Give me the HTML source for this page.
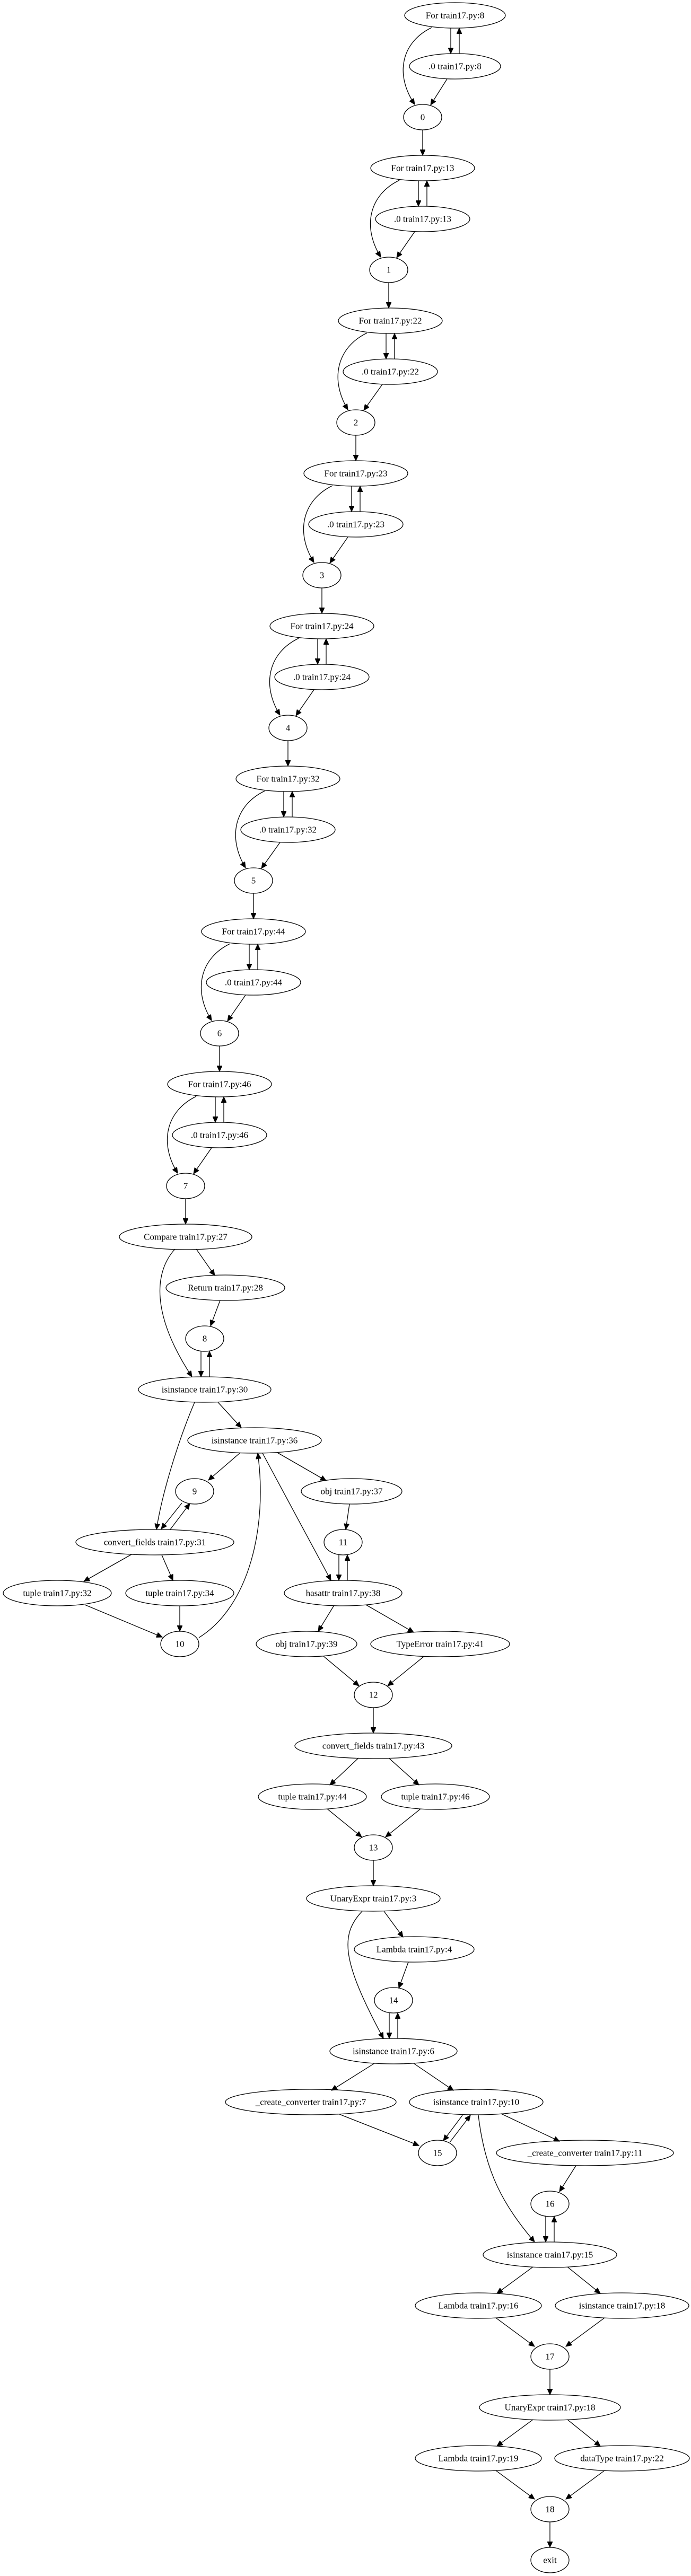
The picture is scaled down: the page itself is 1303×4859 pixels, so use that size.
<!DOCTYPE html>
<html><head><meta charset="utf-8"><style>
html,body{margin:0;padding:0;background:#fff}
svg{display:block}
text{font-family:"Liberation Serif",serif;font-size:17px;fill:#000;text-anchor:middle;dominant-baseline:central}
ellipse{fill:none;stroke:#000;stroke-width:1.3}
path{fill:none;stroke:#000;stroke-width:1.3}
</style></head><body>
<svg width="1303" height="4859" viewBox="0 0 1303 4859" xmlns="http://www.w3.org/2000/svg">
<defs><marker id="a" markerWidth="12" markerHeight="10" refX="11" refY="5" orient="auto" markerUnits="userSpaceOnUse"><path d="M0,0 L11,5 L0,10 Z" style="fill:#000;stroke:#000;stroke-width:1"/></marker></defs>

<!-- nodes -->
<g>
<ellipse cx="858" cy="29" rx="95" ry="24"/><text x="858" y="29">For train17.py:8</text>
<ellipse cx="858" cy="125" rx="86" ry="24"/><text x="858" y="125">.0 train17.py:8</text>
<ellipse cx="797" cy="221" rx="36" ry="24"/><text x="797" y="221">0</text>

<ellipse cx="797" cy="317" rx="98" ry="24"/><text x="797" y="317">For train17.py:13</text>
<ellipse cx="797" cy="413" rx="89" ry="24"/><text x="797" y="413">.0 train17.py:13</text>
<ellipse cx="733" cy="509" rx="36" ry="24"/><text x="733" y="509">1</text>

<ellipse cx="736" cy="605" rx="98" ry="24"/><text x="736" y="605">For train17.py:22</text>
<ellipse cx="736" cy="701" rx="89" ry="24"/><text x="736" y="701">.0 train17.py:22</text>
<ellipse cx="671" cy="797" rx="36" ry="24"/><text x="671" y="797">2</text>

<ellipse cx="671" cy="893" rx="98" ry="24"/><text x="671" y="893">For train17.py:23</text>
<ellipse cx="671" cy="989" rx="89" ry="24"/><text x="671" y="989">.0 train17.py:23</text>
<ellipse cx="607" cy="1085" rx="36" ry="24"/><text x="607" y="1085">3</text>

<ellipse cx="607" cy="1181" rx="98" ry="24"/><text x="607" y="1181">For train17.py:24</text>
<ellipse cx="607" cy="1277" rx="89" ry="24"/><text x="607" y="1277">.0 train17.py:24</text>
<ellipse cx="543" cy="1373" rx="36" ry="24"/><text x="543" y="1373">4</text>

<ellipse cx="543" cy="1469" rx="98" ry="24"/><text x="543" y="1469">For train17.py:32</text>
<ellipse cx="543" cy="1565" rx="89" ry="24"/><text x="543" y="1565">.0 train17.py:32</text>
<ellipse cx="478" cy="1661" rx="36" ry="24"/><text x="478" y="1661">5</text>

<ellipse cx="478" cy="1757" rx="98" ry="24"/><text x="478" y="1757">For train17.py:44</text>
<ellipse cx="478" cy="1853" rx="89" ry="24"/><text x="478" y="1853">.0 train17.py:44</text>
<ellipse cx="414" cy="1949" rx="36" ry="24"/><text x="414" y="1949">6</text>

<ellipse cx="414" cy="2045" rx="98" ry="24"/><text x="414" y="2045">For train17.py:46</text>
<ellipse cx="414" cy="2141" rx="89" ry="24"/><text x="414" y="2141">.0 train17.py:46</text>
<ellipse cx="350" cy="2237" rx="36" ry="24"/><text x="350" y="2237">7</text>

<ellipse cx="350" cy="2333" rx="125" ry="24"/><text x="350" y="2333">Compare train17.py:27</text>
<ellipse cx="425" cy="2429" rx="112" ry="24"/><text x="425" y="2429">Return train17.py:28</text>
<ellipse cx="386" cy="2525" rx="36" ry="24"/><text x="386" y="2525">8</text>
<ellipse cx="386" cy="2621" rx="125" ry="24"/><text x="386" y="2621">isinstance train17.py:30</text>
<ellipse cx="480" cy="2717" rx="126" ry="24"/><text x="480" y="2717">isinstance train17.py:36</text>
<ellipse cx="367" cy="2813" rx="36" ry="24"/><text x="367" y="2813">9</text>
<ellipse cx="663" cy="2813" rx="95" ry="24"/><text x="663" y="2813">obj train17.py:37</text>
<ellipse cx="292" cy="2909" rx="149" ry="24"/><text x="292" y="2909">convert_fields train17.py:31</text>
<ellipse cx="647" cy="2909" rx="36" ry="24"/><text x="647" y="2909">11</text>
<ellipse cx="108" cy="3005" rx="102" ry="24"/><text x="108" y="3005">tuple train17.py:32</text>
<ellipse cx="339" cy="3005" rx="102" ry="24"/><text x="339" y="3005">tuple train17.py:34</text>
<ellipse cx="647" cy="3005" rx="111" ry="24"/><text x="647" y="3005">hasattr train17.py:38</text>
<ellipse cx="339" cy="3101" rx="36" ry="24"/><text x="339" y="3101">10</text>
<ellipse cx="578" cy="3101" rx="95" ry="24"/><text x="578" y="3101">obj train17.py:39</text>
<ellipse cx="830" cy="3101" rx="131" ry="24"/><text x="830" y="3101">TypeError train17.py:41</text>
<ellipse cx="704" cy="3197" rx="36" ry="24"/><text x="704" y="3197">12</text>
<ellipse cx="704" cy="3293" rx="148" ry="24"/><text x="704" y="3293">convert_fields train17.py:43</text>
<ellipse cx="589" cy="3389" rx="102" ry="24"/><text x="589" y="3389">tuple train17.py:44</text>
<ellipse cx="821" cy="3389" rx="102" ry="24"/><text x="821" y="3389">tuple train17.py:46</text>
<ellipse cx="704" cy="3485" rx="36" ry="24"/><text x="704" y="3485">13</text>
<ellipse cx="704" cy="3581" rx="126" ry="24"/><text x="704" y="3581">UnaryExpr train17.py:3</text>
<ellipse cx="781" cy="3677" rx="113" ry="24"/><text x="781" y="3677">Lambda train17.py:4</text>
<ellipse cx="742" cy="3773" rx="36" ry="24"/><text x="742" y="3773">14</text>
<ellipse cx="742" cy="3869" rx="120" ry="24"/><text x="742" y="3869">isinstance train17.py:6</text>
<ellipse cx="586" cy="3965" rx="161" ry="24"/><text x="586" y="3965">_create_converter train17.py:7</text>
<ellipse cx="898" cy="3965" rx="126" ry="24"/><text x="898" y="3965">isinstance train17.py:10</text>
<ellipse cx="825" cy="4061" rx="36" ry="24"/><text x="825" y="4061">15</text>
<ellipse cx="1103" cy="4061" rx="167" ry="24"/><text x="1103" y="4061">_create_converter train17.py:11</text>
<ellipse cx="1037" cy="4157" rx="36" ry="24"/><text x="1037" y="4157">16</text>
<ellipse cx="1037" cy="4253" rx="126" ry="24"/><text x="1037" y="4253">isinstance train17.py:15</text>
<ellipse cx="902" cy="4349" rx="119" ry="24"/><text x="902" y="4349">Lambda train17.py:16</text>
<ellipse cx="1173" cy="4349" rx="126" ry="24"/><text x="1173" y="4349">isinstance train17.py:18</text>
<ellipse cx="1037" cy="4445" rx="36" ry="24"/><text x="1037" y="4445">17</text>
<ellipse cx="1037" cy="4541" rx="133" ry="24"/><text x="1037" y="4541">UnaryExpr train17.py:18</text>
<ellipse cx="902" cy="4637" rx="119" ry="24"/><text x="902" y="4637">Lambda train17.py:19</text>
<ellipse cx="1173" cy="4637" rx="127" ry="24"/><text x="1173" y="4637">dataType train17.py:22</text>
<ellipse cx="1037" cy="4733" rx="36" ry="24"/><text x="1037" y="4733">18</text>
<ellipse cx="1037" cy="4829" rx="36" ry="24"/><text x="1037" y="4829">exit</text>
</g>

<!-- edges -->
<g marker-end="url(#a)">
<path d="M850,53 L850,101"/><path d="M866,101 L866,53"/><path d="M814,52 C758,79 743,139 782,197"/><path d="M843,149 L812,198"/><path d="M797,245 L797,293"/>
<path d="M789,341 L789,389"/><path d="M805,389 L805,341"/><path d="M753,340 C697,367 682,427 718,485"/><path d="M782,437 L748,486"/><path d="M733,533 L733,581"/>
<path d="M728,629 L728,677"/><path d="M744,677 L744,629"/><path d="M692,628 C636,655 621,715 656,773"/><path d="M721,725 L686,774"/><path d="M671,821 L671,869"/>
<path d="M663,917 L663,965"/><path d="M679,965 L679,917"/><path d="M627,916 C571,943 556,1003 592,1061"/><path d="M656,1013 L622,1062"/><path d="M607,1109 L607,1157"/>
<path d="M599,1205 L599,1253"/><path d="M615,1253 L615,1205"/><path d="M563,1204 C507,1231 492,1291 528,1349"/><path d="M592,1301 L558,1350"/><path d="M543,1397 L543,1445"/>
<path d="M535,1493 L535,1541"/><path d="M551,1541 L551,1493"/><path d="M499,1492 C443,1519 428,1579 463,1637"/><path d="M528,1589 L493,1638"/><path d="M478,1685 L478,1733"/>
<path d="M470,1781 L470,1829"/><path d="M486,1829 L486,1781"/><path d="M434,1780 C378,1807 363,1867 399,1925"/><path d="M463,1877 L429,1926"/><path d="M414,1973 L414,2021"/>
<path d="M406,2069 L406,2117"/><path d="M422,2117 L422,2069"/><path d="M370,2068 C314,2095 299,2155 335,2213"/><path d="M399,2165 L365,2214"/><path d="M350,2261 L350,2309"/>

<path d="M370,2356 L405,2406"/>
<path d="M330,2356 C290,2400 285,2480 362,2597"/>
<path d="M415,2453 L397,2501"/>
<path d="M379,2549 L379,2597"/><path d="M395,2597 L395,2549"/>
<path d="M411,2645 L455,2693"/>
<path d="M367,2645 C335,2720 305,2820 295,2885"/>
<path d="M452,2741 L393,2792"/>
<path d="M523,2740 L615,2793"/>
<path d="M495,2741 L624,2981"/>
<path d="M343,2835 L304,2884"/><path d="M321,2885 L358,2836"/>
<path d="M659,2837 L652,2885"/>
<path d="M639,2933 L639,2981"/><path d="M655,2981 L655,2933"/>
<path d="M248,2932 L158,2983"/>
<path d="M305,2933 L326,2981"/>
<path d="M160,3027 L306,3088"/>
<path d="M339,3029 L339,3077"/>
<path d="M375,3089 C470,3030 505,2880 486,2741"/>
<path d="M630,3028 L600,3077"/>
<path d="M690,3027 L780,3079"/>
<path d="M610,3124 L677,3180"/>
<path d="M800,3124 L731,3180"/>
<path d="M704,3221 L704,3269"/>
<path d="M676,3316 L622,3367"/>
<path d="M733,3316 L790,3367"/>
<path d="M617,3412 L682,3465"/>
<path d="M793,3412 L727,3465"/>
<path d="M704,3509 L704,3557"/>
<path d="M724,3605 L760,3654"/>
<path d="M683,3605 C640,3650 645,3700 723,3845"/>
<path d="M770,3701 L752,3750"/>
<path d="M734,3797 L734,3845"/><path d="M750,3845 L750,3797"/>
<path d="M706,3892 L625,3943"/>
<path d="M780,3892 L855,3943"/>
<path d="M640,3988 L790,4047"/>
<path d="M872,3990 L836,4038"/><path d="M848,4041 L887,3990"/>
<path d="M945,3987 L1055,4039"/>
<path d="M902,3990 C915,4100 950,4160 1008,4229"/>
<path d="M1086,4085 L1055,4134"/>
<path d="M1029,4181 L1029,4229"/><path d="M1045,4229 L1045,4181"/>
<path d="M1005,4276 L937,4326"/>
<path d="M1070,4276 L1132,4326"/>
<path d="M935,4372 L1008,4426"/>
<path d="M1140,4372 L1067,4426"/>
<path d="M1037,4469 L1037,4517"/>
<path d="M1005,4564 L937,4614"/>
<path d="M1070,4564 L1132,4614"/>
<path d="M935,4660 L1008,4714"/>
<path d="M1140,4660 L1067,4714"/>
<path d="M1037,4757 L1037,4805"/>
</g>
</svg>
</body></html>
